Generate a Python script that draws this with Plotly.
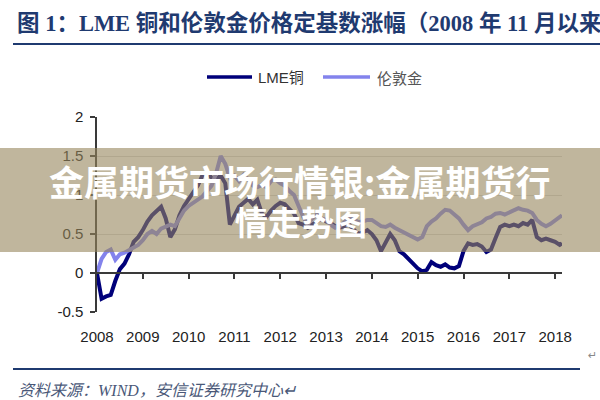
import plotly.graph_objects as go

# ---------------- data ----------------
years = [
    2008.0, 2008.1, 2008.2, 2008.3, 2008.4, 2008.5, 2008.6, 2008.7, 2008.8, 2008.9,
    2009.0, 2009.1, 2009.2, 2009.3, 2009.4, 2009.5, 2009.6, 2009.7, 2009.8, 2009.9,
    2010.0, 2010.1, 2010.2, 2010.3, 2010.4, 2010.5, 2010.6, 2010.7, 2010.8, 2010.9,
    2011.0, 2011.1, 2011.2, 2011.3, 2011.4, 2011.5, 2011.6, 2011.7, 2011.8, 2011.9,
    2012.0, 2012.1, 2012.2, 2012.3, 2012.4, 2012.5, 2012.6, 2012.7, 2012.8, 2012.9,
    2013.0, 2013.1, 2013.2, 2013.3, 2013.4, 2013.5, 2013.6, 2013.7, 2013.8, 2013.9,
    2014.0, 2014.1, 2014.2, 2014.3, 2014.4, 2014.5, 2014.6, 2014.7, 2014.8, 2014.9,
    2015.0, 2015.1, 2015.2, 2015.3, 2015.4, 2015.5, 2015.6, 2015.7, 2015.8, 2015.9,
    2016.0, 2016.1, 2016.2, 2016.3, 2016.4, 2016.5, 2016.6, 2016.7, 2016.8, 2016.9,
    2017.0, 2017.1, 2017.2, 2017.3, 2017.4, 2017.5, 2017.6, 2017.7, 2017.8, 2017.9,
    2018.0, 2018.1, 2018.15,
]

copper = [
    0.00, -0.33, -0.30, -0.28, -0.10, 0.05, 0.12, 0.24, 0.40, 0.46,
    0.55, 0.66, 0.74, 0.80, 0.85, 0.70, 0.46, 0.56, 0.74, 0.86,
    0.95, 1.02, 1.12, 1.25, 1.30, 1.22, 1.20, 1.25, 1.15, 0.62,
    0.74, 0.85, 0.90, 0.95, 0.88, 0.94, 0.76, 0.72, 0.80, 0.86,
    0.90, 0.88, 0.82, 0.76, 0.64, 0.62, 0.58, 0.62, 0.66, 0.70,
    0.66, 0.64, 0.60, 0.58, 0.60, 0.62, 0.56, 0.50, 0.52, 0.55,
    0.50, 0.42, 0.28, 0.40, 0.50, 0.42, 0.28, 0.24, 0.18, 0.12,
    0.06, 0.02, 0.04, 0.14, 0.10, 0.08, 0.11, 0.07, 0.06, 0.09,
    0.28, 0.38, 0.36, 0.37, 0.34, 0.27, 0.30, 0.45, 0.59, 0.62,
    0.60, 0.62, 0.60, 0.64, 0.62, 0.68, 0.46, 0.42, 0.44, 0.42,
    0.40, 0.36, 0.38,
]

gold = [
    0.00, 0.18, 0.27, 0.30, 0.17, 0.24, 0.26, 0.29, 0.32, 0.36,
    0.42, 0.50, 0.54, 0.50, 0.57, 0.60, 0.62, 0.60, 0.70, 0.80,
    0.86, 0.90, 0.95, 0.98, 1.05, 1.12, 1.28, 1.50, 1.40, 1.22,
    1.25, 1.18, 1.26, 1.20, 1.12, 1.10, 1.13, 1.10, 1.18, 1.20,
    1.15, 1.12, 1.05, 1.00, 0.86, 0.72, 0.62, 0.70, 0.75, 0.70,
    0.68, 0.62, 0.58, 0.60, 0.65, 0.72, 0.70, 0.65, 0.66, 0.68,
    0.68, 0.64, 0.60, 0.59, 0.62, 0.58, 0.55, 0.52, 0.50, 0.47,
    0.43, 0.46, 0.60, 0.66, 0.70, 0.76, 0.81, 0.80, 0.75, 0.70,
    0.62, 0.55, 0.60, 0.63, 0.65, 0.70, 0.72, 0.76, 0.77, 0.75,
    0.78, 0.80, 0.83, 0.81, 0.80, 0.77, 0.68, 0.63, 0.60, 0.63,
    0.68, 0.72, 0.74,
]

series_names = ["LME铜", "伦敦金"]
tick_years = [2008, 2009, 2010, 2011, 2012, 2013, 2014, 2015, 2016, 2017, 2018]
tick_labels = ["2008", "2009", "2010", "2011", "2012", "2013", "2014", "2015", "2016", "2017", "2018"]
y_ticks = [-0.5, 0, 0.5, 1, 1.5, 2]
y_tick_labels = ["-0.5", "0", "0.5", "1", "1.5", "2"]

title_text = "图 1：LME 铜和伦敦金价格定基数涨幅（2008 年 11 月以来"
overlay_line1 = "金属期货市场行情银:金属期货行"
overlay_line2 = "情走势图"
source_text = "资料来源：WIND，安信证券研究中心↵"

# ---------------- layout helpers (pixel -> paper) ----------------
L, R, T, B = 97, 562, 117, 312


def px_x(x):
    return (x - L) / (R - L)


def px_y(y):
    return (B - y) / (B - T)


COPPER = "#00007A"
GOLD = "#8383EC"
AXIS = "#3a3a3a"
NAVY_TXT = "#1F3A70"

fig = go.Figure()
fig.add_trace(go.Scatter(x=years, y=copper, mode="lines", name=series_names[0],
                         line=dict(color=COPPER, width=4), showlegend=False))
fig.add_trace(go.Scatter(x=years, y=gold, mode="lines", name=series_names[1],
                         line=dict(color=GOLD, width=4), showlegend=False))
# invisible helper trace so the y=0 axis (xaxis2) is drawn
fig.add_trace(go.Scatter(x=years, y=copper, xaxis="x2", mode="lines", opacity=0,
                         line=dict(width=0), hoverinfo="skip", showlegend=False))

tickfont = dict(family="Liberation Sans, Arial, sans-serif", size=15, color="#222222")

fig.update_layout(
    width=600, height=400,
    margin=dict(l=L, r=600 - R, t=T, b=400 - B, pad=0),
    paper_bgcolor="white", plot_bgcolor="white",
    showlegend=False,
    xaxis=dict(range=[2008, 2018.15], tickvals=tick_years, ticktext=tick_labels,
               showgrid=False, zeroline=False, showline=False,
               ticks="outside", ticklen=11, tickcolor="rgba(0,0,0,0)",
               tickfont=tickfont),
    xaxis2=dict(range=[2008, 2018.15], overlaying="x", anchor="free", position=px_y(273),
                showline=True, linecolor=AXIS, linewidth=1.5,
                ticks="outside", ticklen=5, tickwidth=1.5, tickcolor=AXIS,
                tickvals=tick_years[1:], showticklabels=False,
                showgrid=False, zeroline=False),
    yaxis=dict(range=[-0.5, 2], tickvals=y_ticks, ticktext=y_tick_labels,
               showgrid=True, gridcolor="#d9d9d9", gridwidth=1, zeroline=False,
               showline=True, linecolor=AXIS, linewidth=1.5,
               ticks="outside", ticklen=5, tickwidth=1.5, tickcolor=AXIS,
               ticklabelstandoff=4, tickfont=tickfont),
)

shapes = [
    # title underline
    dict(type="line", xref="paper", yref="paper", x0=px_x(13), x1=px_x(600),
         y0=px_y(44), y1=px_y(44), line=dict(color=NAVY_TXT, width=2)),
    # bottom rule
    dict(type="line", xref="paper", yref="paper", x0=px_x(13), x1=px_x(580),
         y0=px_y(369), y1=px_y(369), line=dict(color=NAVY_TXT, width=2)),
    # legend lines
    dict(type="line", xref="paper", yref="paper", x0=px_x(207), x1=px_x(252),
         y0=px_y(77), y1=px_y(77), line=dict(color=COPPER, width=3.5)),
    dict(type="line", xref="paper", yref="paper", x0=px_x(323), x1=px_x(370),
         y0=px_y(77), y1=px_y(77), line=dict(color=GOLD, width=3.5)),
    # translucent overlay band
    dict(type="rect", xref="paper", yref="paper", x0=px_x(0), x1=px_x(600),
         y0=px_y(252), y1=px_y(148), fillcolor="rgba(150,133,92,0.6)",
         line=dict(width=0), layer="above"),
]

annotations = [
    dict(text="<b>" + title_text + "</b>", xref="paper", yref="paper",
         x=px_x(15), y=px_y(23), xanchor="left", yanchor="middle", showarrow=False,
         font=dict(family="Liberation Serif, Noto Sans CJK SC", size=22.5, color=NAVY_TXT)),
    dict(text=series_names[0], xref="paper", yref="paper",
         x=px_x(256), y=px_y(77), xanchor="left", yanchor="middle", showarrow=False,
         font=dict(family="Liberation Sans, Noto Sans CJK SC", size=15, color="#333333")),
    dict(text=series_names[1], xref="paper", yref="paper",
         x=px_x(375), y=px_y(77), xanchor="left", yanchor="middle", showarrow=False,
         font=dict(family="Noto Sans CJK SC", size=15, color="#555555")),
    dict(text="<b>" + overlay_line1 + "</b>", xref="paper", yref="paper",
         x=px_x(299), y=px_y(180), xanchor="center", yanchor="middle", showarrow=False,
         font=dict(family="Noto Sans CJK SC", size=35, color="white")),
    dict(text="<b>" + overlay_line2 + "</b>", xref="paper", yref="paper",
         x=px_x(301), y=px_y(221), xanchor="center", yanchor="middle", showarrow=False,
         font=dict(family="Noto Sans CJK SC", size=33, color="white")),
    dict(text="<i>" + source_text + "</i>", xref="paper", yref="paper",
         x=px_x(16), y=px_y(390), xanchor="left", yanchor="middle", showarrow=False,
         font=dict(family="Liberation Serif, Noto Sans CJK SC", size=16, color="#4A5878")),
    dict(text="↵", xref="paper", yref="paper",
         x=px_x(592), y=px_y(355), xanchor="center", yanchor="middle", showarrow=False,
         font=dict(family="DejaVu Sans", size=11, color="#888888")),
]

fig.update_layout(shapes=shapes, annotations=annotations)

fig.write_html("out.html")
